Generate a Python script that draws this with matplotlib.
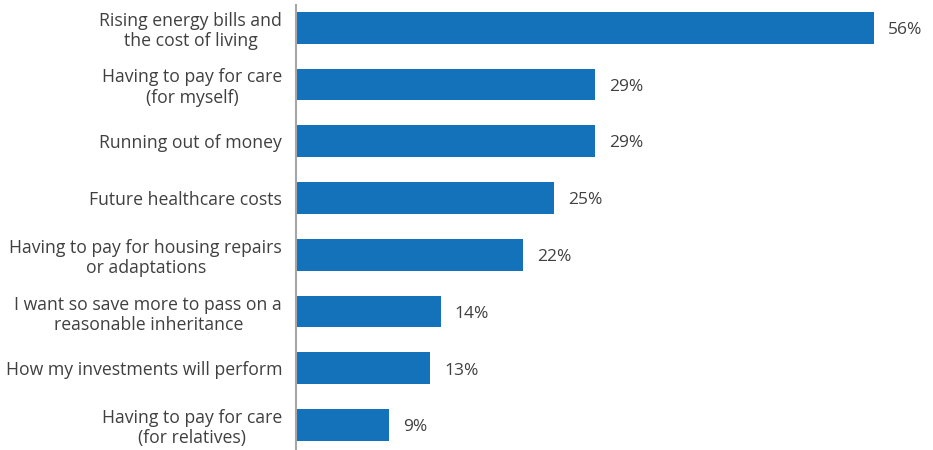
import matplotlib.pyplot as plt

labels = [
    "Rising energy bills and\nthe cost of living",
    "Having to pay for care\n(for myself)",
    "Running out of money",
    "Future healthcare costs",
    "Having to pay for housing repairs\nor adaptations",
    "I want so save more to pass on a\nreasonable inheritance",
    "How my investments will perform",
    "Having to pay for care\n(for relatives)",
]
values = [56, 29, 29, 25, 22, 14, 13, 9]

plt.rcParams['font.family'] = ['Open Sans', 'DejaVu Sans']

fig = plt.figure(figsize=(9.33, 4.5), dpi=100)
ax = fig.add_axes([296 / 933, 0, 1 - 296 / 933, 1 - 5 / 450])

ypos = list(range(len(values)))
ax.barh(ypos, values, height=0.56, color="#1472BA")

for y, v in zip(ypos, values):
    ax.text(v + 1.35, y + 0.04, f"{v}%", va="center", ha="left", fontsize=12.5, color="#404040")

ax.set_xlim(0, 61.7)
ax.set_ylim(7.44, -0.4)
ax.set_yticks(ypos)
ax.set_yticklabels(labels, fontsize=12.7, color="#404040", multialignment="center",
                   linespacing=1.15)
ax.tick_params(axis="y", length=0, pad=10)
ax.set_xticks([])
for s in ["top", "right", "bottom"]:
    ax.spines[s].set_visible(False)
ax.spines["left"].set_color("#A6A6A6")
ax.spines["left"].set_linewidth(1.5)

fig.savefig("out.png", dpi=100)
